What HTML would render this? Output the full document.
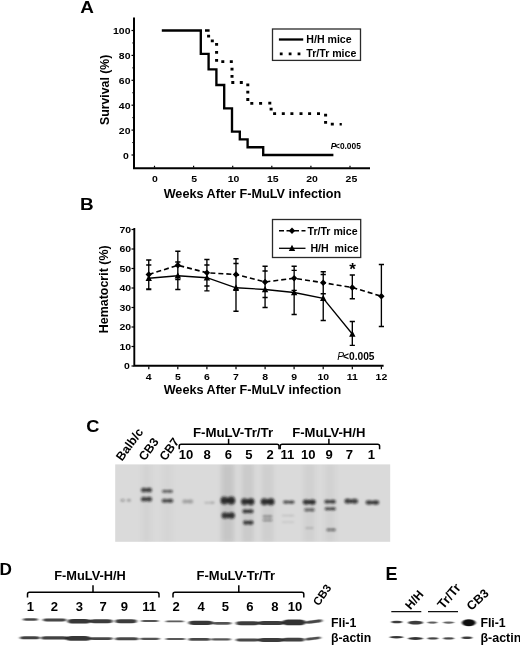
<!DOCTYPE html>
<html><head><meta charset="utf-8"><title>Figure</title>
<style>
html,body{margin:0;padding:0;background:#fff;}
body{width:520px;height:648px;overflow:hidden;}
svg{display:block;}
text{font-family:"Liberation Sans",sans-serif;font-weight:bold;fill:#000;}
</style></head><body>
<svg width="520" height="648" viewBox="0 0 520 648">
<defs>
<filter id="b1" x="-30%" y="-100%" width="160%" height="300%"><feGaussianBlur stdDeviation="1.25"/></filter>
<filter id="b2" x="-30%" y="-100%" width="160%" height="300%"><feGaussianBlur stdDeviation="1.4 0.7"/></filter>
<filter id="b4" x="-30%" y="-100%" width="160%" height="300%"><feGaussianBlur stdDeviation="1.0 0.6"/></filter>
<clipPath id="gelclip"><rect x="115.2" y="464.4" width="275" height="77.4"/></clipPath>
<filter id="b3" x="-30%" y="-100%" width="160%" height="300%"><feGaussianBlur stdDeviation="2.2 3"/></filter>
</defs>
<rect width="520" height="648" fill="#fff"/>

<g id="panelA">
<text transform="translate(80.2 12.6) scale(1.1 1)" font-size="17.2">A</text>
<path d="M134 17.5V169.1" stroke="#000" stroke-width="2" fill="none"/><path d="M133 168.2H370" stroke="#000" stroke-width="1.9" fill="none"/>
<path d="M154.5 167.4v-1.6M193.6 167.4v-1.6M232.7 167.4v-1.6M271.8 167.4v-1.6M310.9 167.4v-1.6M350.0 167.4v-1.6" stroke="#000" stroke-width="1.2"/>
<path d="M131.5 155.00H134" stroke="#000" stroke-width="1.2"/>
<text transform="translate(128.9 158.50) scale(1.08 1)" font-size="9.7" text-anchor="end">0</text>
<path d="M131.5 130.10H134" stroke="#000" stroke-width="1.2"/>
<text transform="translate(130.5 133.60) scale(1.08 1)" font-size="9.7" text-anchor="end">20</text>
<path d="M131.5 105.20H134" stroke="#000" stroke-width="1.2"/>
<text transform="translate(130.5 108.70) scale(1.08 1)" font-size="9.7" text-anchor="end">40</text>
<path d="M131.5 80.30H134" stroke="#000" stroke-width="1.2"/>
<text transform="translate(130.5 83.80) scale(1.08 1)" font-size="9.7" text-anchor="end">60</text>
<path d="M131.5 55.40H134" stroke="#000" stroke-width="1.2"/>
<text transform="translate(130.5 58.90) scale(1.08 1)" font-size="9.7" text-anchor="end">80</text>
<path d="M131.5 30.50H134" stroke="#000" stroke-width="1.2"/>
<text transform="translate(130.5 34.00) scale(1.08 1)" font-size="9.7" text-anchor="end">100</text>
<path d="M132.3 142.55H134" stroke="#000" stroke-width="1"/>
<path d="M132.3 117.65H134" stroke="#000" stroke-width="1"/>
<path d="M132.3 92.75H134" stroke="#000" stroke-width="1"/>
<path d="M132.3 67.85H134" stroke="#000" stroke-width="1"/>
<path d="M132.3 42.95H134" stroke="#000" stroke-width="1"/>
<text transform="translate(108.5 89.8) rotate(-90)" font-size="12.3" text-anchor="middle">Survival (%)</text>
<text transform="translate(154.90 182.4) scale(1.08 1)" font-size="9.7" text-anchor="middle">0</text>
<text transform="translate(194.20 182.4) scale(1.08 1)" font-size="9.7" text-anchor="middle">5</text>
<text transform="translate(233.50 182.4) scale(1.08 1)" font-size="9.7" text-anchor="middle">10</text>
<text transform="translate(272.80 182.4) scale(1.08 1)" font-size="9.7" text-anchor="middle">15</text>
<text transform="translate(312.10 182.4) scale(1.08 1)" font-size="9.7" text-anchor="middle">20</text>
<text transform="translate(351.40 182.4) scale(1.08 1)" font-size="9.7" text-anchor="middle">25</text>
<text x="252.4" y="197.6" font-size="12.65" text-anchor="middle">Weeks After F-MuLV infection</text>
<path d="M161.80 30.50H200.80V53.84H208.60V69.41H216.40V84.97H224.20V108.31H232.00V131.66H239.80V139.44H247.60V147.22H263.20V155.00H333.40" stroke="#000" stroke-width="2.35" fill="none" stroke-linejoin="miter"/>
<path d="M205 29.2h4.6v2.6h-4.6zM207.1 34.8h3v2.8h-3zM210.8 39.4h3v2.8h-3zM215.1 43.0h3v2.8h-3zM215.1 51.0h3v2.8h-3zM215.1 59.0h3v2.8h-3zM221.3 60.3h3v2.8h-3zM229.8 60.3h3v2.8h-3zM230.5 67.7h3v2.8h-3zM230.5 74.9h3v2.8h-3zM231.3 81.1h3v2.8h-3zM239.8 81.1h3v2.8h-3zM246.3 83.4h3v2.8h-3zM246.3 90.8h3v2.8h-3zM246.3 98.1h3v2.8h-3zM250.3 101.9h3v2.8h-3zM259.1 101.9h3v2.8h-3zM268.3 101.8h3v2.8h-3zM269.6 107.8h3v2.8h-3zM273.1 112.3h3v2.8h-3zM281.8 112.3h3v2.8h-3zM290.4 112.3h3v2.8h-3zM299.5 112.3h3v2.8h-3zM308.1 112.3h3v2.8h-3zM317.0 112.3h3v2.8h-3zM324.1 113.8h3v2.8h-3zM324.1 120.9h3v2.8h-3zM330.8 122.8h3v2.8h-3zM339.6 122.9h2.2v2.6h-2.2z" fill="#000"/>
<rect x="272.5" y="29" width="88" height="31.4" fill="#fff" stroke="#2a2a2a" stroke-width="1.3"/>
<path d="M278.9 39.5H303.2" stroke="#000" stroke-width="2.3"/>
<path d="M279.8 53.9H303" stroke="#000" stroke-width="2.6" stroke-dasharray="2.8 6.1"/>
<text x="306.3" y="43.2" font-size="10.6">H/H mice</text>
<text x="306.3" y="56.8" font-size="10.6">Tr/Tr mice</text>
<text x="330.8" y="148.6" font-size="8.4"><tspan font-style="italic">P</tspan><tspan dx="-1.4">&lt;0.005</tspan></text>
</g>
<g id="panelB">
<text transform="translate(79.9 209.7) scale(1.1 1)" font-size="17.2">B</text>
<path d="M134.3 228V366.6M133.4 365.7H383.6" stroke="#000" stroke-width="1.9" fill="none"/>
<path d="M148.8 366.6v2.6M177.8 366.6v2.6M206.9 366.6v2.6M236.0 366.6v2.6M265.1 366.6v2.6M294.1 366.6v2.6M323.2 366.6v2.6M352.3 366.6v2.6M381.4 366.6v2.6" stroke="#000" stroke-width="1.2"/>
<path d="M131.5 366.00H134" stroke="#000" stroke-width="1.2"/>
<text transform="translate(129.8 369.30) scale(1.08 1)" font-size="9.7" text-anchor="end">0</text>
<path d="M131.5 346.50H134" stroke="#000" stroke-width="1.2"/>
<text transform="translate(131.1 349.80) scale(1.08 1)" font-size="9.7" text-anchor="end">10</text>
<path d="M131.5 327.00H134" stroke="#000" stroke-width="1.2"/>
<text transform="translate(131.1 330.30) scale(1.08 1)" font-size="9.7" text-anchor="end">20</text>
<path d="M131.5 307.50H134" stroke="#000" stroke-width="1.2"/>
<text transform="translate(131.1 310.80) scale(1.08 1)" font-size="9.7" text-anchor="end">30</text>
<path d="M131.5 288.00H134" stroke="#000" stroke-width="1.2"/>
<text transform="translate(131.1 291.30) scale(1.08 1)" font-size="9.7" text-anchor="end">40</text>
<path d="M131.5 268.50H134" stroke="#000" stroke-width="1.2"/>
<text transform="translate(131.1 271.80) scale(1.08 1)" font-size="9.7" text-anchor="end">50</text>
<path d="M131.5 249.00H134" stroke="#000" stroke-width="1.2"/>
<text transform="translate(131.1 252.30) scale(1.08 1)" font-size="9.7" text-anchor="end">60</text>
<path d="M131.5 229.50H134" stroke="#000" stroke-width="1.2"/>
<text transform="translate(131.1 232.80) scale(1.08 1)" font-size="9.7" text-anchor="end">70</text>
<text transform="translate(108.2 289.3) rotate(-90)" font-size="12.45" text-anchor="middle">Hematocrit (%)</text>
<text transform="translate(148.75 379.7) scale(1.08 1)" font-size="9.7" text-anchor="middle">4</text>
<text transform="translate(177.83 379.7) scale(1.08 1)" font-size="9.7" text-anchor="middle">5</text>
<text transform="translate(206.91 379.7) scale(1.08 1)" font-size="9.7" text-anchor="middle">6</text>
<text transform="translate(235.99 379.7) scale(1.08 1)" font-size="9.7" text-anchor="middle">7</text>
<text transform="translate(265.07 379.7) scale(1.08 1)" font-size="9.7" text-anchor="middle">8</text>
<text transform="translate(294.15 379.7) scale(1.08 1)" font-size="9.7" text-anchor="middle">9</text>
<text transform="translate(323.23 379.7) scale(1.08 1)" font-size="9.7" text-anchor="middle">10</text>
<text transform="translate(352.31 379.7) scale(1.08 1)" font-size="9.7" text-anchor="middle">11</text>
<text transform="translate(381.39 379.7) scale(1.08 1)" font-size="9.7" text-anchor="middle">12</text>
<text x="252.4" y="393.8" font-size="12.65" text-anchor="middle">Weeks After F-MuLV infection</text>
<path d="M148.75 260.00V289.50M146.15 260.00H151.35M146.15 289.50H151.35M177.83 251.25V279.50M175.23 251.25H180.43M175.23 279.50H180.43M206.91 259.50V286.00M204.31 259.50H209.51M204.31 286.00H209.51M235.99 258.75V290.20M233.39 258.75H238.59M233.39 290.20H238.59M265.07 266.25V297.50M262.47 266.25H267.67M262.47 297.50H267.67M294.15 266.25V290.30M291.55 266.25H296.75M291.55 290.30H296.75M323.23 271.75V293.75M320.63 271.75H325.83M320.63 293.75H325.83M352.31 275.00V298.75M349.71 275.00H354.91M349.71 298.75H354.91M381.39 264.50V326.50M378.79 264.50H383.99M378.79 326.50H383.99M148.75 265.00V289.00M146.15 265.00H151.35M146.15 289.00H151.35M177.83 262.00V289.50M175.23 262.00H180.43M175.23 289.50H180.43M206.91 265.00V290.80M204.31 265.00H209.51M204.31 290.80H209.51M235.99 263.50V311.25M233.39 263.50H238.59M233.39 311.25H238.59M265.07 271.00V307.50M262.47 271.00H267.67M262.47 307.50H267.67M294.15 270.30V314.50M291.55 270.30H296.75M291.55 314.50H296.75M323.23 274.50V320.50M320.63 274.50H325.83M320.63 320.50H325.83M352.31 321.50V345.30M349.71 321.50H354.91M349.71 345.30H354.91" stroke="#000" stroke-width="1.35" fill="none"/>
<path d="M148.75 274.50L177.83 265.25L206.91 272.75L235.99 274.50L265.07 282.00L294.15 278.25L323.23 282.75L352.31 287.50L381.39 296.25" stroke="#000" stroke-width="1.6" fill="none" stroke-dasharray="5 3"/>
<path d="M148.75 278.25L177.83 275.75L206.91 277.75L235.99 287.75L265.07 289.50L294.15 292.50L323.23 298.25L352.31 334.00" stroke="#000" stroke-width="1.3" fill="none"/>
<path d="M145.55 274.50L148.75 271.30L151.95 274.50L148.75 277.70ZM174.63 265.25L177.83 262.05L181.03 265.25L177.83 268.45ZM203.71 272.75L206.91 269.55L210.11 272.75L206.91 275.95ZM232.79 274.50L235.99 271.30L239.19 274.50L235.99 277.70ZM261.87 282.00L265.07 278.80L268.27 282.00L265.07 285.20ZM290.95 278.25L294.15 275.05L297.35 278.25L294.15 281.45ZM320.03 282.75L323.23 279.55L326.43 282.75L323.23 285.95ZM349.11 287.50L352.31 284.30L355.51 287.50L352.31 290.70ZM378.19 296.25L381.39 293.05L384.59 296.25L381.39 299.45Z" fill="#000"/>
<path d="M145.55 281.05L148.75 274.65L151.95 281.05ZM174.63 278.55L177.83 272.15L181.03 278.55ZM203.71 280.55L206.91 274.15L210.11 280.55ZM232.79 290.55L235.99 284.15L239.19 290.55ZM261.87 292.30L265.07 285.90L268.27 292.30ZM290.95 295.30L294.15 288.90L297.35 295.30ZM320.03 301.05L323.23 294.65L326.43 301.05ZM349.11 336.80L352.31 330.40L355.51 336.80Z" fill="#000"/>
<rect x="272.5" y="219.5" width="88.2" height="38" fill="#fff" stroke="#2a2a2a" stroke-width="1.3"/>
<path d="M279 230.8H305.5" stroke="#000" stroke-width="1.6" stroke-dasharray="5 2.5"/>
<path d="M279 248.3H305.5" stroke="#000" stroke-width="1.3"/>
<path d="M288.80 230.80L292.00 227.60L295.20 230.80L292.00 234.00ZM288.80 251.10L292.00 244.70L295.20 251.10Z" fill="#000"/>
<text x="307.5" y="234.6" font-size="10.6">Tr/Tr mice</text>
<text x="310.4" y="252" font-size="10.6" xml:space="preserve">H/H  mice</text>
<text x="352.6" y="274.6" font-size="17" text-anchor="middle">*</text>
<text x="337.3" y="360.1" font-size="10.2"><tspan font-style="italic" style="font-weight:normal">P</tspan><tspan dx="-1">&lt;0.005</tspan></text>
</g>
<g id="panelC">
<text transform="translate(86.2 432) scale(1.06 1)" font-size="17.2">C</text>
<text transform="translate(122 461.8) rotate(-54)" font-size="12.3">Balb/c</text>
<text transform="translate(144.8 461.6) rotate(-54)" font-size="12.3">CB3</text>
<text transform="translate(165.4 461.6) rotate(-54)" font-size="12.3">CB7</text>
<text x="192.9" y="437" font-size="12.3" textLength="80.2" lengthAdjust="spacingAndGlyphs">F-MuLV-Tr/Tr</text>
<text x="292.2" y="437" font-size="12.3" textLength="73.2" lengthAdjust="spacingAndGlyphs">F-MuLV-H/H</text>
<path d="M179.2 449.2V446Q179.2 444.2 181.2 444.2H277Q279 444.2 279 446V449.2M228.6 444.2V438.8" stroke="#000" stroke-width="1.5" fill="none"/>
<path d="M280.2 449.2V446Q280.2 444.2 282.2 444.2H377.6Q379.6 444.2 379.6 446V449.2M328.9 444.2V438.8" stroke="#000" stroke-width="1.5" fill="none"/>
<text transform="translate(186.1 459.2) scale(1.1 1)" font-size="11.9" text-anchor="middle">10</text>
<text transform="translate(207.2 459.2) scale(1.1 1)" font-size="11.9" text-anchor="middle">8</text>
<text transform="translate(228.3 459.2) scale(1.1 1)" font-size="11.9" text-anchor="middle">6</text>
<text transform="translate(249.0 459.2) scale(1.1 1)" font-size="11.9" text-anchor="middle">5</text>
<text transform="translate(270.1 459.2) scale(1.1 1)" font-size="11.9" text-anchor="middle">2</text>
<text transform="translate(287.3 459.2) scale(1.1 1)" font-size="11.9" text-anchor="middle">11</text>
<text transform="translate(308.3 459.2) scale(1.1 1)" font-size="11.9" text-anchor="middle">10</text>
<text transform="translate(329.1 459.2) scale(1.1 1)" font-size="11.9" text-anchor="middle">9</text>
<text transform="translate(349.5 459.2) scale(1.1 1)" font-size="11.9" text-anchor="middle">7</text>
<text transform="translate(371.3 459.2) scale(1.1 1)" font-size="11.9" text-anchor="middle">1</text>
<rect x="115.2" y="464.4" width="275" height="77.4" fill="#dadada"/>
<g clip-path="url(#gelclip)"><g filter="url(#b3)">
<rect x="221.2" y="462" width="13" height="82" fill="#000" opacity="0.09"/>
<rect x="241.7" y="462" width="12" height="82" fill="#000" opacity="0.07"/>
<rect x="261.6" y="462" width="12" height="82" fill="#000" opacity="0.05"/>
<rect x="303.2" y="462" width="12" height="82" fill="#000" opacity="0.04"/>
<rect x="324.5" y="462" width="11" height="82" fill="#000" opacity="0.035"/>
<rect x="141.5" y="462" width="10" height="82" fill="#000" opacity="0.03"/>
<rect x="162.5" y="462" width="10" height="82" fill="#000" opacity="0.025"/>
</g></g>
<g filter="url(#b1)">
<ellipse cx="122.7" cy="500.2" rx="2.1" ry="1.5" fill="#161616" opacity="0.3"/>
<ellipse cx="128.9" cy="500.2" rx="2.1" ry="1.5" fill="#161616" opacity="0.27"/>
<rect x="141.4" y="488.3" width="10.1" height="3.3" rx="1.6" fill="#161616" opacity="0.58"/>
<ellipse cx="143.7" cy="490" rx="3.0" ry="2.6" fill="#161616" opacity="0.47"/>
<ellipse cx="149.2" cy="490" rx="3.0" ry="2.6" fill="#161616" opacity="0.53"/>
<rect x="141.4" y="497.5" width="10.1" height="3.3" rx="1.6" fill="#161616" opacity="0.58"/>
<ellipse cx="143.7" cy="499.2" rx="3.0" ry="2.6" fill="#161616" opacity="0.47"/>
<ellipse cx="149.2" cy="499.2" rx="3.0" ry="2.6" fill="#161616" opacity="0.53"/>
<rect x="162.5" y="490.3" width="9.8" height="2.0" rx="1.0" fill="#161616" opacity="0.49"/>
<ellipse cx="164.7" cy="491.3" rx="3.0" ry="1.6" fill="#161616" opacity="0.40"/>
<ellipse cx="170.1" cy="491.3" rx="3.0" ry="1.6" fill="#161616" opacity="0.45"/>
<rect x="162.3" y="499.4" width="10.3" height="2.8" rx="1.3" fill="#161616" opacity="0.55"/>
<ellipse cx="164.6" cy="500.8" rx="3.1" ry="2.2" fill="#161616" opacity="0.44"/>
<ellipse cx="170.3" cy="500.8" rx="3.1" ry="2.2" fill="#161616" opacity="0.50"/>
<rect x="182.7" y="499.8" width="10.0" height="3.2" rx="1.5" fill="#161616" opacity="0.15"/>
<ellipse cx="184.9" cy="501.4" rx="3.0" ry="2.5" fill="#161616" opacity="0.12"/>
<ellipse cx="190.5" cy="501.4" rx="3.0" ry="2.5" fill="#161616" opacity="0.14"/>
<rect x="204.6" y="502.0" width="8.9" height="1.5" rx="0.7" fill="#161616" opacity="0.11"/>
<ellipse cx="206.5" cy="502.8" rx="2.7" ry="1.2" fill="#161616" opacity="0.08"/>
<ellipse cx="211.6" cy="502.8" rx="2.7" ry="1.2" fill="#161616" opacity="0.10"/>
<ellipse cx="213.2" cy="502.6" rx="1.7" ry="1.1" fill="#161616" opacity="0.14"/>
<rect x="221.0" y="497.8" width="13.6" height="5.5" rx="2.6" fill="#161616" opacity="0.73"/>
<ellipse cx="224.2" cy="500.6" rx="3.9" ry="4.3" fill="#161616" opacity="0.58"/>
<ellipse cx="231.4" cy="500.6" rx="3.9" ry="4.3" fill="#161616" opacity="0.66"/>
<rect x="222.0" y="513.2" width="12.4" height="4.5" rx="2.1" fill="#161616" opacity="0.68"/>
<ellipse cx="224.9" cy="515.4" rx="3.6" ry="3.5" fill="#161616" opacity="0.54"/>
<ellipse cx="231.5" cy="515.4" rx="3.6" ry="3.5" fill="#161616" opacity="0.61"/>
<rect x="241.6" y="499.3" width="12.2" height="4.7" rx="2.2" fill="#161616" opacity="0.72"/>
<ellipse cx="244.4" cy="501.7" rx="3.6" ry="3.7" fill="#161616" opacity="0.58"/>
<ellipse cx="251.0" cy="501.7" rx="3.6" ry="3.7" fill="#161616" opacity="0.65"/>
<rect x="243.0" y="509.9" width="9.8" height="2.8" rx="1.3" fill="#161616" opacity="0.63"/>
<ellipse cx="245.2" cy="511.3" rx="3.0" ry="2.2" fill="#161616" opacity="0.50"/>
<ellipse cx="250.6" cy="511.3" rx="3.0" ry="2.2" fill="#161616" opacity="0.57"/>
<rect x="243.7" y="521.1" width="9.1" height="3.1" rx="1.4" fill="#161616" opacity="0.63"/>
<ellipse cx="245.7" cy="522.6" rx="2.8" ry="2.4" fill="#161616" opacity="0.50"/>
<ellipse cx="250.8" cy="522.6" rx="2.8" ry="2.4" fill="#161616" opacity="0.57"/>
<rect x="261.2" y="499.3" width="12.8" height="4.9" rx="2.3" fill="#161616" opacity="0.72"/>
<ellipse cx="264.2" cy="501.7" rx="3.7" ry="3.8" fill="#161616" opacity="0.58"/>
<ellipse cx="271.0" cy="501.7" rx="3.7" ry="3.8" fill="#161616" opacity="0.65"/>
<rect x="263.0" y="515.5" width="9.0" height="1.8" rx="0.8" fill="#161616" opacity="0.22"/>
<ellipse cx="265.0" cy="516.4" rx="2.8" ry="1.4" fill="#161616" opacity="0.18"/>
<ellipse cx="270.0" cy="516.4" rx="2.8" ry="1.4" fill="#161616" opacity="0.20"/>
<rect x="263.0" y="519.3" width="9.0" height="1.8" rx="0.8" fill="#161616" opacity="0.25"/>
<ellipse cx="265.0" cy="520.2" rx="2.8" ry="1.4" fill="#161616" opacity="0.20"/>
<ellipse cx="270.0" cy="520.2" rx="2.8" ry="1.4" fill="#161616" opacity="0.22"/>
<rect x="283.5" y="500.9" width="10.5" height="2.4" rx="1.1" fill="#161616" opacity="0.54"/>
<ellipse cx="285.9" cy="502.1" rx="3.1" ry="1.9" fill="#161616" opacity="0.43"/>
<ellipse cx="291.6" cy="502.1" rx="3.1" ry="1.9" fill="#161616" opacity="0.49"/>
<rect x="282.0" y="514.9" width="12.0" height="1.3" rx="0.6" fill="#161616" opacity="0.08"/>
<ellipse cx="284.8" cy="515.5" rx="3.5" ry="1.0" fill="#161616" opacity="0.06"/>
<ellipse cx="291.2" cy="515.5" rx="3.5" ry="1.0" fill="#161616" opacity="0.07"/>
<rect x="282.0" y="521.4" width="12.0" height="1.3" rx="0.6" fill="#161616" opacity="0.06"/>
<ellipse cx="284.8" cy="522" rx="3.5" ry="1.0" fill="#161616" opacity="0.05"/>
<ellipse cx="291.2" cy="522" rx="3.5" ry="1.0" fill="#161616" opacity="0.05"/>
<rect x="303.3" y="500.3" width="11.9" height="3.6" rx="1.7" fill="#161616" opacity="0.69"/>
<ellipse cx="306.1" cy="502.1" rx="3.5" ry="2.8" fill="#161616" opacity="0.55"/>
<ellipse cx="312.4" cy="502.1" rx="3.5" ry="2.8" fill="#161616" opacity="0.63"/>
<rect x="304.7" y="508.6" width="9.5" height="2.4" rx="1.1" fill="#161616" opacity="0.41"/>
<ellipse cx="306.8" cy="509.8" rx="2.9" ry="1.9" fill="#161616" opacity="0.33"/>
<ellipse cx="312.1" cy="509.8" rx="2.9" ry="1.9" fill="#161616" opacity="0.37"/>
<rect x="305.6" y="527.4" width="7.6" height="1.3" rx="0.6" fill="#161616" opacity="0.12"/>
<ellipse cx="307.2" cy="528" rx="2.4" ry="1.0" fill="#161616" opacity="0.10"/>
<ellipse cx="311.6" cy="528" rx="2.4" ry="1.0" fill="#161616" opacity="0.11"/>
<rect x="324.8" y="500.4" width="10.5" height="2.7" rx="1.3" fill="#161616" opacity="0.60"/>
<ellipse cx="327.2" cy="501.7" rx="3.1" ry="2.1" fill="#161616" opacity="0.48"/>
<ellipse cx="332.9" cy="501.7" rx="3.1" ry="2.1" fill="#161616" opacity="0.54"/>
<rect x="325.2" y="507.7" width="10.1" height="2.2" rx="1.0" fill="#161616" opacity="0.57"/>
<ellipse cx="327.5" cy="508.8" rx="3.0" ry="1.7" fill="#161616" opacity="0.46"/>
<ellipse cx="333.0" cy="508.8" rx="3.0" ry="1.7" fill="#161616" opacity="0.52"/>
<rect x="326.8" y="528.8" width="8.5" height="2.0" rx="1.0" fill="#161616" opacity="0.38"/>
<ellipse cx="328.6" cy="529.8" rx="2.6" ry="1.6" fill="#161616" opacity="0.30"/>
<ellipse cx="333.5" cy="529.8" rx="2.6" ry="1.6" fill="#161616" opacity="0.34"/>
<rect x="345.0" y="499.6" width="12.5" height="3.5" rx="1.6" fill="#161616" opacity="0.60"/>
<ellipse cx="347.9" cy="501.3" rx="3.6" ry="2.7" fill="#161616" opacity="0.48"/>
<ellipse cx="354.6" cy="501.3" rx="3.6" ry="2.7" fill="#161616" opacity="0.54"/>
<ellipse cx="347.0" cy="500" rx="2.5" ry="1.5" fill="#161616" opacity="0.3"/>
<rect x="366.2" y="501.0" width="12.4" height="3.1" rx="1.4" fill="#161616" opacity="0.65"/>
<ellipse cx="369.1" cy="502.5" rx="3.6" ry="2.4" fill="#161616" opacity="0.52"/>
<ellipse cx="375.7" cy="502.5" rx="3.6" ry="2.4" fill="#161616" opacity="0.58"/>
</g>
</g>
<g id="panelD">
<text transform="translate(-0.5 574.8)" font-size="17.2">D</text>
<text x="54.2" y="580" font-size="12.5" textLength="71.6" lengthAdjust="spacingAndGlyphs">F-MuLV-H/H</text>
<text x="196.6" y="580" font-size="12.5" textLength="78.4" lengthAdjust="spacingAndGlyphs">F-MuLV-Tr/Tr</text>
<path d="M27.5 597.6V594.3Q27.5 592.3 29.5 592.3H157Q159 592.3 159 594.3V597.6M93 592.3V585.2" stroke="#000" stroke-width="1.5" fill="none"/>
<path d="M173 597.6V594.3Q173 592.3 175 592.3H301.8Q303.8 592.3 303.8 594.3V597.6M238.8 592.3V585.2" stroke="#000" stroke-width="1.5" fill="none"/>
<text transform="translate(30.5 610.9) scale(1.1 1)" font-size="11.9" text-anchor="middle">1</text>
<text transform="translate(54.3 610.9) scale(1.1 1)" font-size="11.9" text-anchor="middle">2</text>
<text transform="translate(79.3 610.9) scale(1.1 1)" font-size="11.9" text-anchor="middle">3</text>
<text transform="translate(103.2 610.9) scale(1.1 1)" font-size="11.9" text-anchor="middle">7</text>
<text transform="translate(124.4 610.9) scale(1.1 1)" font-size="11.9" text-anchor="middle">9</text>
<text transform="translate(149.2 610.9) scale(1.1 1)" font-size="11.9" text-anchor="middle">11</text>
<text transform="translate(176.25 610.9) scale(1.1 1)" font-size="11.9" text-anchor="middle">2</text>
<text transform="translate(201.25 610.9) scale(1.1 1)" font-size="11.9" text-anchor="middle">4</text>
<text transform="translate(225.5 610.9) scale(1.1 1)" font-size="11.9" text-anchor="middle">5</text>
<text transform="translate(250 610.9) scale(1.1 1)" font-size="11.9" text-anchor="middle">6</text>
<text transform="translate(275 610.9) scale(1.1 1)" font-size="11.9" text-anchor="middle">8</text>
<text transform="translate(295 610.9) scale(1.1 1)" font-size="11.9" text-anchor="middle">10</text>
<text transform="translate(318.8 606.6) rotate(-55)" font-size="11.4">CB3</text>
<text x="331" y="626.8" font-size="12.3">Fli-1</text>
<text x="331" y="641.8" font-size="12.3">β-actin</text>
<g filter="url(#b2)">
<rect x="23.0" y="618.34" width="14.8" height="2.52" rx="2.77" ry="1.26" fill="#101010" opacity="0.77"/>
<rect x="43.0" y="618.59" width="23.2" height="2.82" rx="3.10" ry="1.41" fill="#101010" opacity="0.77"/>
<rect x="67.7" y="618.90" width="22.7" height="4.59" rx="5.05" ry="2.30" fill="#101010" opacity="0.83"/>
<rect x="89.6" y="619.37" width="23.0" height="3.85" rx="4.24" ry="1.93" fill="#101010" opacity="0.81"/>
<rect x="115.2" y="619.37" width="21.6" height="3.85" rx="4.24" ry="1.93" fill="#101010" opacity="0.81"/>
<rect x="141.2" y="620.04" width="17.3" height="1.93" rx="2.12" ry="0.96" fill="#101010" opacity="0.72"/>
<rect x="165.7" y="620.51" width="18.1" height="1.78" rx="1.96" ry="0.89" fill="#101010" opacity="0.68"/>
<rect x="188.6" y="620.65" width="24.5" height="4.30" rx="4.73" ry="2.15" fill="#101010" opacity="0.83"/>
<rect x="212.8" y="621.89" width="18.5" height="2.82" rx="3.10" ry="1.41" fill="#101010" opacity="0.72"/>
<rect x="236.0" y="621.37" width="23.3" height="3.85" rx="4.24" ry="1.93" fill="#101010" opacity="0.81"/>
<rect x="258.4" y="621.00" width="25.2" height="4.00" rx="4.40" ry="2.00" fill="#101010" opacity="0.81"/>
<rect x="282.2" y="619.51" width="23.6" height="5.78" rx="6.35" ry="2.89" fill="#101010" opacity="0.85"/>
<rect x="305.6" y="620.04" width="16.7" height="3.11" rx="3.42" ry="1.56" fill="#101010" opacity="0.77" transform="rotate(-7 313.9 621.6)"/>
<rect x="20.0" y="636.14" width="19.8" height="3.11" rx="3.42" ry="1.56" fill="#101010" opacity="0.79"/>
<rect x="41.2" y="636.34" width="26.6" height="3.11" rx="3.42" ry="1.56" fill="#101010" opacity="0.79"/>
<rect x="65.8" y="635.96" width="25.0" height="4.89" rx="5.38" ry="2.44" fill="#101010" opacity="0.83"/>
<rect x="89.6" y="637.27" width="23.0" height="2.67" rx="2.93" ry="1.33" fill="#101010" opacity="0.77"/>
<rect x="115.2" y="637.14" width="23.3" height="3.11" rx="3.42" ry="1.56" fill="#101010" opacity="0.77"/>
<rect x="140.0" y="637.69" width="19.8" height="2.22" rx="2.45" ry="1.11" fill="#101010" opacity="0.72"/>
<rect x="165.7" y="638.04" width="19.6" height="1.93" rx="2.12" ry="0.96" fill="#101010" opacity="0.70"/>
<rect x="188.6" y="637.99" width="21.7" height="2.82" rx="3.10" ry="1.41" fill="#101010" opacity="0.77"/>
<rect x="211.2" y="638.36" width="19.6" height="2.08" rx="2.28" ry="1.04" fill="#101010" opacity="0.70"/>
<rect x="236.0" y="638.59" width="23.3" height="2.82" rx="3.10" ry="1.41" fill="#101010" opacity="0.76"/>
<rect x="258.4" y="638.07" width="25.2" height="3.85" rx="4.24" ry="1.93" fill="#101010" opacity="0.81"/>
<rect x="282.2" y="637.77" width="22.2" height="3.85" rx="4.24" ry="1.93" fill="#101010" opacity="0.79"/>
<rect x="305.2" y="637.27" width="15.6" height="2.67" rx="2.93" ry="1.33" fill="#101010" opacity="0.74" transform="rotate(-7 313.0 638.6)"/>
</g>
</g>
<g id="panelE">
<text transform="translate(385.4 579.5)" font-size="18">E</text>
<text transform="translate(410.6 610.2) rotate(-49)" font-size="12">H/H</text>
<text transform="translate(443.3 609.8) rotate(-50)" font-size="13">Tr/Tr</text>
<text transform="translate(471.3 611) rotate(-42)" font-size="12.3">CB3</text>
<path d="M391.3 611.7H421.3M428 611.7H458" stroke="#111" stroke-width="1.3"/>
<text x="480.4" y="626.8" font-size="12.3">Fli-1</text>
<text x="480.4" y="641.8" font-size="12.5">β-actin</text>
<g filter="url(#b4)">
<ellipse cx="396.8" cy="621.9" rx="5.5" ry="1.24" fill="#101010" opacity="0.81"/>
<ellipse cx="415.5" cy="622.7" rx="7.5" ry="1.88" fill="#101010" opacity="0.81"/>
<ellipse cx="432.4" cy="622.6" rx="4.9" ry="1.08" fill="#101010" opacity="0.68"/>
<ellipse cx="448.6" cy="622.6" rx="5.5" ry="1.08" fill="#101010" opacity="0.65"/>
<ellipse cx="468.8" cy="622.7" rx="6.9" ry="3.48" fill="#101010" opacity="1.00"/>
<ellipse cx="396.5" cy="637.2" rx="6.8" ry="1.24" fill="#101010" opacity="0.84"/>
<ellipse cx="415.5" cy="638.5" rx="7.5" ry="1.40" fill="#101010" opacity="0.85"/>
<ellipse cx="432.9" cy="638.4" rx="5.4" ry="1.16" fill="#101010" opacity="0.78"/>
<ellipse cx="448.6" cy="638.4" rx="5.5" ry="1.16" fill="#101010" opacity="0.76"/>
<ellipse cx="467.0" cy="637.8" rx="5.3" ry="1.32" fill="#101010" opacity="0.81"/>
</g>
</g>
</svg></body></html>
